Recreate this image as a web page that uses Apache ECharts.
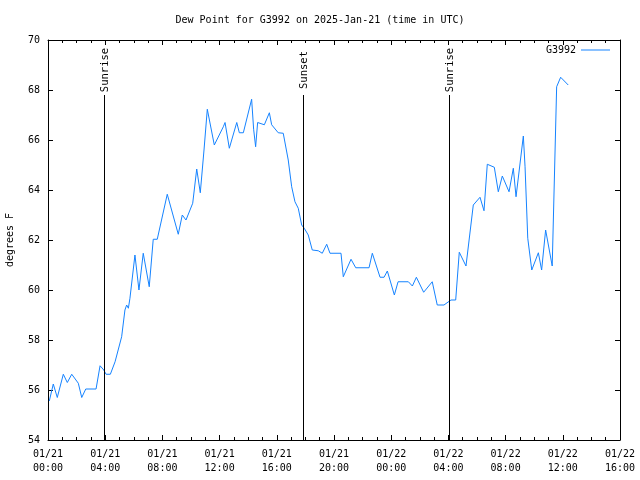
<!DOCTYPE html>
<html>
<head>
<meta charset="utf-8">
<script src="https://cdn.jsdelivr.net/npm/echarts@6/dist/echarts.min.js"></script>
<style>html,body{margin:0;padding:0;background:#fff;}#c{width:640px;height:480px;}</style>
</head>
<body>
<div id="c"></div>
<script>
// hours since 2025-01-21 00:00 UTC
const times = [0.09,0.37,0.65,1.07,1.35,1.66,2.12,2.36,2.64,3.36,3.64,3.90,4.06,4.36,4.69,5.15,5.38,5.50,5.62,5.73,
  6.08,6.36,6.66,7.08,7.36,7.64,8.34,9.11,9.39,9.65,10.12,10.40,10.65,10.91,11.14,11.63,12.26,12.38,12.68,13.20,
  13.38,13.66,14.24,14.38,14.52,14.66,15.13,15.48,15.64,16.10,16.45,16.80,17.04,17.27,17.50,17.74,17.92,18.20,18.48,18.90,
  19.18,19.49,19.72,20.49,20.65,21.19,21.52,22.45,22.68,23.22,23.50,23.73,24.22,24.48,25.20,25.48,25.76,26.27,26.87,27.22,
  27.69,28.18,28.51,28.76,29.23,29.74,30.21,30.49,30.72,31.21,31.49,31.77,32.24,32.54,32.73,33.24,33.36,33.55,33.83,34.29,
  34.52,34.80,35.26,35.57,35.85,36.38];
const dewPoint = [55.56,56.24,55.70,56.63,56.30,56.63,56.27,55.70,56.04,56.04,56.97,56.80,56.63,56.63,57.13,58.13,59.20,59.40,59.27,59.67,
  61.40,60.00,61.47,60.13,62.03,62.03,63.83,62.23,63.00,62.80,63.47,64.84,63.89,65.60,67.23,65.80,66.53,66.70,65.67,66.70,
  66.29,66.29,67.63,66.43,65.73,66.70,66.61,67.09,66.61,66.29,66.27,65.20,64.13,63.53,63.27,62.60,62.47,62.20,61.60,61.57,
  61.47,61.83,61.47,61.47,60.53,61.23,60.89,60.89,61.47,60.51,60.51,60.76,59.80,60.33,60.33,60.16,60.51,59.91,60.33,59.40,
  59.40,59.60,59.60,61.51,60.96,63.40,63.71,63.17,65.03,64.91,63.93,64.56,63.93,64.87,63.73,66.16,64.93,62.07,60.80,61.49,
  60.80,62.40,60.96,68.13,68.51,68.20];
const xTickLabels = ['01/21\n00:00','01/21\n04:00','01/21\n08:00','01/21\n12:00','01/21\n16:00','01/21\n20:00',
  '01/22\n00:00','01/22\n04:00','01/22\n08:00','01/22\n12:00','01/22\n16:00'];
const sunNames = ['Sunrise','Sunset','Sunrise'];
const sunTimes = [3.92, 17.83, 28.04];

const font = 'DejaVu Sans Mono';
const data = times.map((t,i)=>[t, dewPoint[i]]);
const lineTop = 67.8, labelTop = 69.8;
const markData = [];
sunTimes.forEach((t,i)=>{
  markData.push([{coord:[t,54]},{coord:[t,lineTop]}]);
  markData.push([{coord:[t,lineTop], name: sunNames[i],
      lineStyle:{color:'rgba(0,0,0,0)', opacity:1},
      label:{show:true, formatter: sunNames[i], position:'middle', distance:-7, color:'#000', opacity:1, fontFamily:font, fontSize:10.5}},
    {coord:[t,labelTop]}]);
});

const axisCommon = {
  axisLine:{show:true, onZero:false, lineStyle:{color:'#000', width:1}},
  splitLine:{show:false}
};
const chart = echarts.init(document.getElementById('c'), null, {renderer:'canvas'});
chart.setOption({
  animation:false,
  backgroundColor:'#fff',
  title:{text:'Dew Point for G3992 on 2025-Jan-21 (time in UTC)', left:'center', top:10,
    textStyle:{fontFamily:font, fontSize:10, fontWeight:'normal', color:'#000'}},
  legend:{right:25, top:40, align:'right', icon:'rect', itemWidth:29, itemHeight:1, itemGap:5,
    textStyle:{fontFamily:font, fontSize:10, color:'#000'}, data:['G3992']},
  grid:{left:48, right:20, top:40, bottom:40, containLabel:false, outerBoundsMode:'none'},
  xAxis:[
    Object.assign({type:'value', min:0, max:40, interval:4, position:'bottom',
      axisTick:{show:true, inside:true, length:5, lineStyle:{color:'#000'}},
      minorTick:{show:true, splitNumber:4, length:3, lineStyle:{color:'#000'}},
      axisLabel:{fontFamily:font, fontSize:10, color:'#000', lineHeight:14, margin:7,
        formatter:(v)=>xTickLabels[Math.round(v/4)]}}, axisCommon),
    Object.assign({type:'value', min:0, max:40, interval:4, position:'top',
      axisTick:{show:true, inside:true, length:5, lineStyle:{color:'#000'}},
      minorTick:{show:true, splitNumber:4, length:3, lineStyle:{color:'#000'}},
      axisLabel:{show:false}}, axisCommon)
  ],
  yAxis:[
    Object.assign({type:'value', min:54, max:70, interval:2, position:'left',
      name:'degrees F', nameLocation:'middle', nameGap:33, nameRotate:90,
      nameTextStyle:{fontFamily:font, fontSize:10, color:'#000'},
      axisTick:{show:true, inside:true, length:5, lineStyle:{color:'#000'}},
      axisLabel:{fontFamily:font, fontSize:10, color:'#000', margin:8}}, axisCommon),
    Object.assign({type:'value', min:54, max:70, interval:2, position:'right',
      axisTick:{show:true, inside:true, length:5, lineStyle:{color:'#000'}},
      axisLabel:{show:false}}, axisCommon)
  ],
  series:[{
    name:'G3992', type:'line', data:data, showSymbol:false, symbol:'none',
    lineStyle:{color:'#1583ff', width:1}, itemStyle:{color:'#1583ff'},
    markLine:{silent:true, symbol:['none','none'], animation:false,
      lineStyle:{color:'#000', width:1, type:'solid'},
      label:{show:false},
      emphasis:{disabled:true},
      data:markData}
  }]
});
</script>
</body>
</html>
